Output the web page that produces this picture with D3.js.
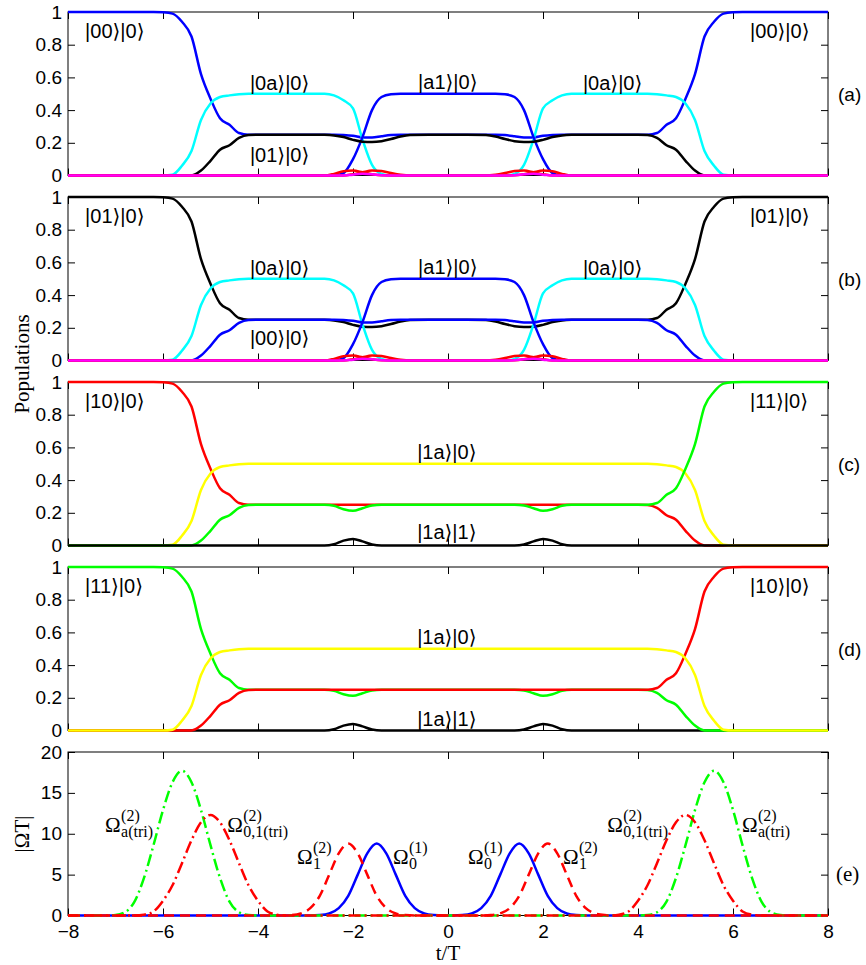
<!DOCTYPE html>
<html>
<head>
<meta charset="utf-8">
<script src="https://cdn.jsdelivr.net/npm/d3@7"></script>
<style>body{margin:0;background:#fff}</style>
</head>
<body>
<svg id="chart" width="866" height="965"></svg>
<script>
// ---- data ----
// time grid (t/T) shared by the population panels
const tGrid = [-8, -7, -6.4, -6.2, -6.0, -5.8, -5.6, -5.4, -5.2, -5.0, -4.8, -4.6, -4.4, -4.2, -4.0,
  -3.6, -3.2, -2.8, -2.6, -2.4, -2.2, -2.0, -1.8, -1.6, -1.4, -1.2, -1.0, -0.8, -0.4, 0, 0.4, 0.8,
  1.0, 1.2, 1.4, 1.6, 1.8, 2.0, 2.2, 2.4, 2.6, 2.8, 3.2, 3.6,
  4.0, 4.2, 4.4, 4.6, 4.8, 5.0, 5.2, 5.4, 5.6, 5.8, 6.0, 6.2, 6.4, 7, 8];

// outer pieces (t = -8..-4 and 4..8)
const fallLeft = [1, 1, 1, 1, 0.998, 0.99, 0.94, 0.85, 0.62, 0.47, 0.35, 0.31, 0.26, 0.25, 0.25];
const riseRight = [0.25, 0.25, 0.26, 0.31, 0.35, 0.47, 0.62, 0.85, 0.94, 0.99, 0.998, 1, 1, 1, 1];
const halfLeft = [0, 0, 0, 0, 0, 0.005, 0.06, 0.15, 0.34, 0.44, 0.48, 0.49, 0.497, 0.5, 0.5];
const halfRight = [0.5, 0.5, 0.497, 0.49, 0.48, 0.44, 0.34, 0.15, 0.06, 0.005, 0, 0, 0, 0, 0];
const quarterLeft = [0, 0, 0, 0, 0, 0, 0, 0, 0.03, 0.09, 0.158, 0.185, 0.23, 0.248, 0.25];
const quarterRight = [0.25, 0.248, 0.23, 0.185, 0.158, 0.09, 0.03, 0, 0, 0, 0, 0, 0, 0, 0];
const zeroEdge = [0, 0, 0, 0, 0, 0, 0, 0, 0, 0, 0, 0, 0, 0, 0];

// middle pieces (t = -3.6..3.6)
const midHalfOuter = [0.5, 0.5, 0.5, 0.5, 0.49, 0.46, 0.41, 0.22, 0.065, 0.01, 0, 0, 0, 0, 0,
  0, 0, 0, 0, 0.01, 0.065, 0.22, 0.41, 0.46, 0.49, 0.5, 0.5, 0.5, 0.5];
const midHalfInner = [0, 0, 0, 0, 0, 0.015, 0.1, 0.235, 0.4, 0.48, 0.497, 0.5, 0.5, 0.5, 0.5,
  0.5, 0.5, 0.5, 0.497, 0.48, 0.4, 0.235, 0.1, 0.015, 0, 0, 0, 0, 0];
const midQuarterDeep = [0.25, 0.25, 0.25, 0.249, 0.245, 0.235, 0.218, 0.207, 0.205, 0.21, 0.223, 0.238, 0.247, 0.25, 0.25,
  0.25, 0.247, 0.238, 0.223, 0.21, 0.205, 0.207, 0.218, 0.235, 0.245, 0.249, 0.25, 0.25, 0.25];
const midQuarterShallow = [0.25, 0.25, 0.25, 0.25, 0.25, 0.248, 0.243, 0.233, 0.232, 0.24, 0.247, 0.25, 0.25, 0.25, 0.25,
  0.25, 0.25, 0.25, 0.247, 0.24, 0.232, 0.233, 0.243, 0.248, 0.25, 0.25, 0.25, 0.25, 0.25];
const midQuarterGreen = [0.25, 0.25, 0.25, 0.25, 0.243, 0.222, 0.212, 0.228, 0.245, 0.25, 0.25, 0.25, 0.25, 0.25, 0.25,
  0.25, 0.25, 0.25, 0.25, 0.25, 0.245, 0.228, 0.212, 0.222, 0.243, 0.25, 0.25, 0.25, 0.25];
const midQuarterFlat = [0.25, 0.25, 0.25, 0.25, 0.25, 0.25, 0.25, 0.25, 0.25, 0.25, 0.25, 0.25, 0.25, 0.25, 0.25,
  0.25, 0.25, 0.25, 0.25, 0.25, 0.25, 0.25, 0.25, 0.25, 0.25, 0.25, 0.25, 0.25, 0.25];
const midHalfFlat = [0.5, 0.5, 0.5, 0.5, 0.5, 0.5, 0.5, 0.5, 0.5, 0.5, 0.5, 0.5, 0.5, 0.5, 0.5,
  0.5, 0.5, 0.5, 0.5, 0.5, 0.5, 0.5, 0.5, 0.5, 0.5, 0.5, 0.5, 0.5, 0.5];
const midRedA = [0, 0, 0, 0, 0.01, 0.026, 0.03, 0.02, 0.008, 0.001, 0, 0, 0, 0, 0,
  0, 0, 0, 0, 0.001, 0.008, 0.02, 0.03, 0.026, 0.01, 0, 0, 0, 0];
const midRedB = [0, 0, 0, 0, 0, 0, 0.008, 0.02, 0.03, 0.027, 0.015, 0.005, 0, 0, 0,
  0, 0, 0.005, 0.015, 0.027, 0.03, 0.02, 0.008, 0, 0, 0, 0, 0, 0];
const midMagenta = [0, 0, 0, 0, 0, 0, 0.005, 0.01, 0.007, 0.002, 0, 0, 0, 0, 0,
  0, 0, 0, 0, 0.002, 0.007, 0.01, 0.005, 0, 0, 0, 0, 0, 0];
const midBlackBump = [0, 0, 0, 0, 0.008, 0.03, 0.04, 0.025, 0.006, 0, 0, 0, 0, 0, 0,
  0, 0, 0, 0, 0, 0.006, 0.025, 0.04, 0.03, 0.008, 0, 0, 0, 0];

// populations, panels (a)-(d)
const popA00 = [...fallLeft, ...midQuarterShallow, ...riseRight];
const popA01 = [...quarterLeft, ...midQuarterDeep, ...quarterRight];
const popB01 = [...fallLeft, ...midQuarterDeep, ...riseRight];
const popB00 = [...quarterLeft, ...midQuarterShallow, ...quarterRight];
const pop0a = [...halfLeft, ...midHalfOuter, ...halfRight];
const popA1 = [...zeroEdge, ...midHalfInner, ...zeroEdge];
const popRedA = [...zeroEdge, ...midRedA, ...zeroEdge];
const popRedB = [...zeroEdge, ...midRedB, ...zeroEdge];
const popMag = [...zeroEdge, ...midMagenta, ...zeroEdge];
const popC10 = [...fallLeft, ...midQuarterFlat, ...quarterRight];
const popC11 = [...quarterLeft, ...midQuarterGreen, ...riseRight];
const popD11 = [...fallLeft, ...midQuarterGreen, ...quarterRight];
const popD10 = [...quarterLeft, ...midQuarterFlat, ...riseRight];
const pop1a0 = [...halfLeft, ...midHalfFlat, ...halfRight];
const pop1a1 = [...zeroEdge, ...midBlackBump, ...zeroEdge];

// pulses, panel (e)
const omega0T = [-8, -2.9, -2.7, -2.5, -2.3, -2.1, -1.9, -1.7, -1.5, -1.3, -1.1, -0.9, -0.7, -0.5, -0.3, -0.1,
  0.1, 0.3, 0.5, 0.7, 0.9, 1.1, 1.3, 1.5, 1.7, 1.9, 2.1, 2.3, 2.5, 2.7, 2.9, 8];
const omega0V = [0, 0, 0.05, 0.25, 0.9, 2.4, 5.0, 7.6, 8.8, 7.6, 5.0, 2.4, 0.9, 0.25, 0.05, 0,
  0, 0.05, 0.25, 0.9, 2.4, 5.0, 7.6, 8.8, 7.6, 5.0, 2.4, 0.9, 0.25, 0.05, 0, 0];
const omega1T = [-8, -3.5, -3.3, -3.1, -2.9, -2.7, -2.5, -2.3, -2.1, -1.9, -1.7, -1.5, -1.3, -1.1, -0.9, -0.7,
  0.7, 0.9, 1.1, 1.3, 1.5, 1.7, 1.9, 2.1, 2.3, 2.5, 2.7, 2.9, 3.1, 3.3, 3.5, 8];
const omega1V = [0, 0, 0.05, 0.25, 0.9, 2.4, 5.0, 7.6, 8.8, 7.6, 5.0, 2.4, 0.9, 0.25, 0.05, 0,
  0, 0.05, 0.25, 0.9, 2.4, 5.0, 7.6, 8.8, 7.6, 5.0, 2.4, 0.9, 0.25, 0.05, 0, 0];
const omega01T = [-8, -6.6, -6.4, -6.2, -6.0, -5.8, -5.6, -5.4, -5.2, -5.0, -4.8, -4.6, -4.4, -4.2, -4.0, -3.8, -3.6, -3.4, -3.2,
  3.2, 3.4, 3.6, 3.8, 4.0, 4.2, 4.4, 4.6, 4.8, 5.0, 5.2, 5.4, 5.6, 5.8, 6.0, 6.2, 6.4, 6.6, 8];
const omega01V = [0, 0, 0.1, 0.5, 1.8, 3.7, 6.4, 9.2, 11.4, 12.3, 11.4, 9.2, 6.4, 3.7, 1.8, 0.5, 0.1, 0, 0,
  0, 0, 0.1, 0.5, 1.8, 3.7, 6.4, 9.2, 11.4, 12.3, 11.4, 9.2, 6.4, 3.7, 1.8, 0.5, 0.1, 0, 0];
const omegaAT = [-8, -7.2, -7.0, -6.8, -6.6, -6.4, -6.2, -6.0, -5.8, -5.6, -5.4, -5.2, -5.0, -4.8, -4.6, -4.4, -4.2, -4.0,
  4.0, 4.2, 4.4, 4.6, 4.8, 5.0, 5.2, 5.4, 5.6, 5.8, 6.0, 6.2, 6.4, 6.6, 6.8, 7.0, 7.2, 8];
const omegaAV = [0, 0, 0.05, 0.4, 1.7, 4.6, 8.6, 12.9, 16.3, 17.7, 16.3, 12.9, 8.6, 4.6, 1.7, 0.4, 0.05, 0,
  0, 0.05, 0.4, 1.7, 4.6, 8.6, 12.9, 16.3, 17.7, 16.3, 12.9, 8.6, 4.6, 1.7, 0.4, 0.05, 0, 0];

// ticks
const xTicks = [-8, -6, -4, -2, 0, 2, 4, 6, 8];
const popTicks = [0, 0.2, 0.4, 0.6, 0.8, 1];
const omegaTicks = [0, 5, 10, 15, 20];

// ---- drawing ----
const sans = '"Liberation Sans", Arial, "DejaVu Sans", sans-serif';
const serif = '"Liberation Serif", "Times New Roman", "DejaVu Serif", serif';
const ket = '\u27E9';

const svg = d3.select('#chart');
const left = 68, right = 828;
const panelTops = [12, 197, 382, 567, 752];
const panelH = 163.5;

const x = d3.scaleLinear().domain([-8, 8]).range([left, right]);

function makePanel(top, yDomain, yTicks, showXLabels) {
    const bottom = top + panelH;
    const y = d3.scaleLinear().domain(yDomain).range([bottom, top]);
    const g = svg.append('g');

    g.append('rect')
        .attr('x', left).attr('y', top)
        .attr('width', right - left).attr('height', panelH)
        .attr('fill', 'none').attr('stroke', '#000').attr('stroke-width', 1);

    g.append('g').attr('transform', `translate(${left},0)`)
        .call(d3.axisLeft(y).tickValues(yTicks).tickSizeInner(-7).tickSizeOuter(0).tickPadding(6).tickFormat(d => String(d)));
    g.append('g').attr('transform', `translate(${right},0)`)
        .call(d3.axisRight(y).tickValues(yTicks).tickSizeInner(-7).tickSizeOuter(0).tickFormat(''));
    g.append('g').attr('transform', `translate(0,${top})`)
        .call(d3.axisTop(x).tickValues(xTicks).tickSizeInner(-7).tickSizeOuter(0).tickFormat(''));
    g.append('g').attr('transform', `translate(0,${bottom})`)
        .call(d3.axisBottom(x).tickValues(xTicks).tickSizeInner(-7).tickSizeOuter(0).tickPadding(9)
            .tickFormat(showXLabels ? d3.format('') : ''));

    g.selectAll('.domain').remove();
    g.selectAll('.tick line').attr('stroke', '#000');
    g.selectAll('.tick text')
        .attr('font-size', 19).attr('font-family', sans).attr('fill', '#000');

    return { g, y };
}

function drawSeries(panel, ts, vals, color, dash) {
    const line = d3.line()
        .x(d => x(d[0]))
        .y(d => panel.y(d[1]))
        .curve(d3.curveMonotoneX);
    panel.g.append('path')
        .datum(ts.map((t, i) => [t, vals[i]]))
        .attr('d', line)
        .attr('fill', 'none')
        .attr('stroke', color)
        .attr('stroke-width', 2.5)
        .attr('stroke-linejoin', 'round')
        .attr('stroke-dasharray', dash || null);
}

function addText(panel, t, v, txt) {
    panel.g.append('text')
        .attr('x', x(t)).attr('y', panel.y(v))
        .attr('font-family', sans)
        .attr('font-size', 20)
        .attr('fill', '#000')
        .text(txt);
}

// population panels
const popPanels = [
    {
        tag: '(a)',
        lines: [['#0000ff', popA00], ['#00ffff', pop0a], ['#0000ff', popA1], ['#000000', popA01],
            ['#ff0000', popRedA], ['#ff0000', popRedB], ['#ff00ff', popMag]],
        labels: [['|00' + ket + '|0' + ket, -7.64, 0.84], ['|0a' + ket + '|0' + ket, -4.17, 0.523],
            ['|a1' + ket + '|0' + ket, -0.63, 0.53], ['|0a' + ket + '|0' + ket, 2.84, 0.523],
            ['|00' + ket + '|0' + ket, 6.36, 0.84], ['|01' + ket + '|0' + ket, -4.17, 0.083]]
    },
    {
        tag: '(b)',
        lines: [['#000000', popB01], ['#00ffff', pop0a], ['#0000ff', popB00], ['#0000ff', popA1],
            ['#ff0000', popRedA], ['#ff0000', popRedB], ['#ff00ff', popMag]],
        labels: [['|01' + ket + '|0' + ket, -7.64, 0.84], ['|0a' + ket + '|0' + ket, -4.17, 0.523],
            ['|a1' + ket + '|0' + ket, -0.63, 0.53], ['|0a' + ket + '|0' + ket, 2.84, 0.523],
            ['|01' + ket + '|0' + ket, 6.36, 0.84], ['|00' + ket + '|0' + ket, -4.17, 0.093]]
    },
    {
        tag: '(c)',
        lines: [['#ff0000', popC10], ['#ffff00', pop1a0], ['#00ff00', popC11], ['#000000', pop1a1]],
        labels: [['|10' + ket + '|0' + ket, -7.64, 0.84], ['|11' + ket + '|0' + ket, 6.36, 0.84],
            ['|1a' + ket + '|0' + ket, -0.65, 0.53], ['|1a' + ket + '|1' + ket, -0.65, 0.037]]
    },
    {
        tag: '(d)',
        lines: [['#000000', pop1a1], ['#00ff00', popD11], ['#ff0000', popD10], ['#ffff00', pop1a0]],
        labels: [['|11' + ket + '|0' + ket, -7.64, 0.84], ['|10' + ket + '|0' + ket, 6.36, 0.84],
            ['|1a' + ket + '|0' + ket, -0.65, 0.53], ['|1a' + ket + '|1' + ket, -0.65, 0.03]]
    }
];

popPanels.forEach((p, i) => {
    const panel = makePanel(panelTops[i], [0, 1], popTicks, false);
    p.lines.forEach(([c, v]) => drawSeries(panel, tGrid, v, c));
    p.labels.forEach(([txt, t, v]) => addText(panel, t, v, txt));
    svg.append('text')
        .attr('x', 838).attr('y', panelTops[i] + 89)
        .attr('font-family', sans).attr('font-size', 19)
        .text(p.tag);
});

// pulse panel (e)
const pe = makePanel(panelTops[4], [0, 20], omegaTicks, true);
drawSeries(pe, omega0T, omega0V, '#0000ff');
drawSeries(pe, omegaAT, omegaAV, '#00ff00', '12,4,2,4');
drawSeries(pe, omega01T, omega01V, '#ff0000', '12,4,2,4');
drawSeries(pe, omega1T, omega1V, '#ff0000', '10,6');

function omegaLabel(t, v, sup, sub) {
    const px = x(t), py = pe.y(v);
    const g = pe.g.append('g').attr('font-family', serif).attr('fill', '#000');
    g.append('text').attr('x', px).attr('y', py).attr('font-size', 21).text('\u03A9');
    g.append('text').attr('x', px + 16).attr('y', py - 11).attr('font-size', 16).text(sup);
    g.append('text').attr('x', px + 16).attr('y', py + 5).attr('font-size', 16).text(sub);
}
omegaLabel(-7.22, 10.2, '(2)', 'a(tri)');
omegaLabel(-4.65, 10.2, '(2)', '0,1(tri)');
omegaLabel(-3.18, 6.3, '(2)', '1');
omegaLabel(-1.16, 6.3, '(1)', '0');
omegaLabel(0.42, 6.3, '(1)', '0');
omegaLabel(2.42, 6.3, '(2)', '1');
omegaLabel(3.35, 10.2, '(2)', '0,1(tri)');
omegaLabel(6.19, 10.2, '(2)', 'a(tri)');

svg.append('text')
    .attr('x', 836).attr('y', 881)
    .attr('font-family', serif).attr('font-size', 21)
    .text('(e)');

// axis titles
svg.append('text')
    .attr('transform', 'translate(29,364) rotate(-90)')
    .attr('text-anchor', 'middle')
    .attr('font-family', serif).attr('font-size', 21)
    .text('Populations');

svg.append('text')
    .attr('transform', 'translate(29,834) rotate(-90)')
    .attr('text-anchor', 'middle')
    .attr('font-family', serif).attr('font-size', 21)
    .text('|\u03A9T|');

svg.append('text')
    .attr('x', 448).attr('y', 960)
    .attr('text-anchor', 'middle')
    .attr('font-family', serif).attr('font-size', 21)
    .text('t/T');
</script>
</body>
</html>
